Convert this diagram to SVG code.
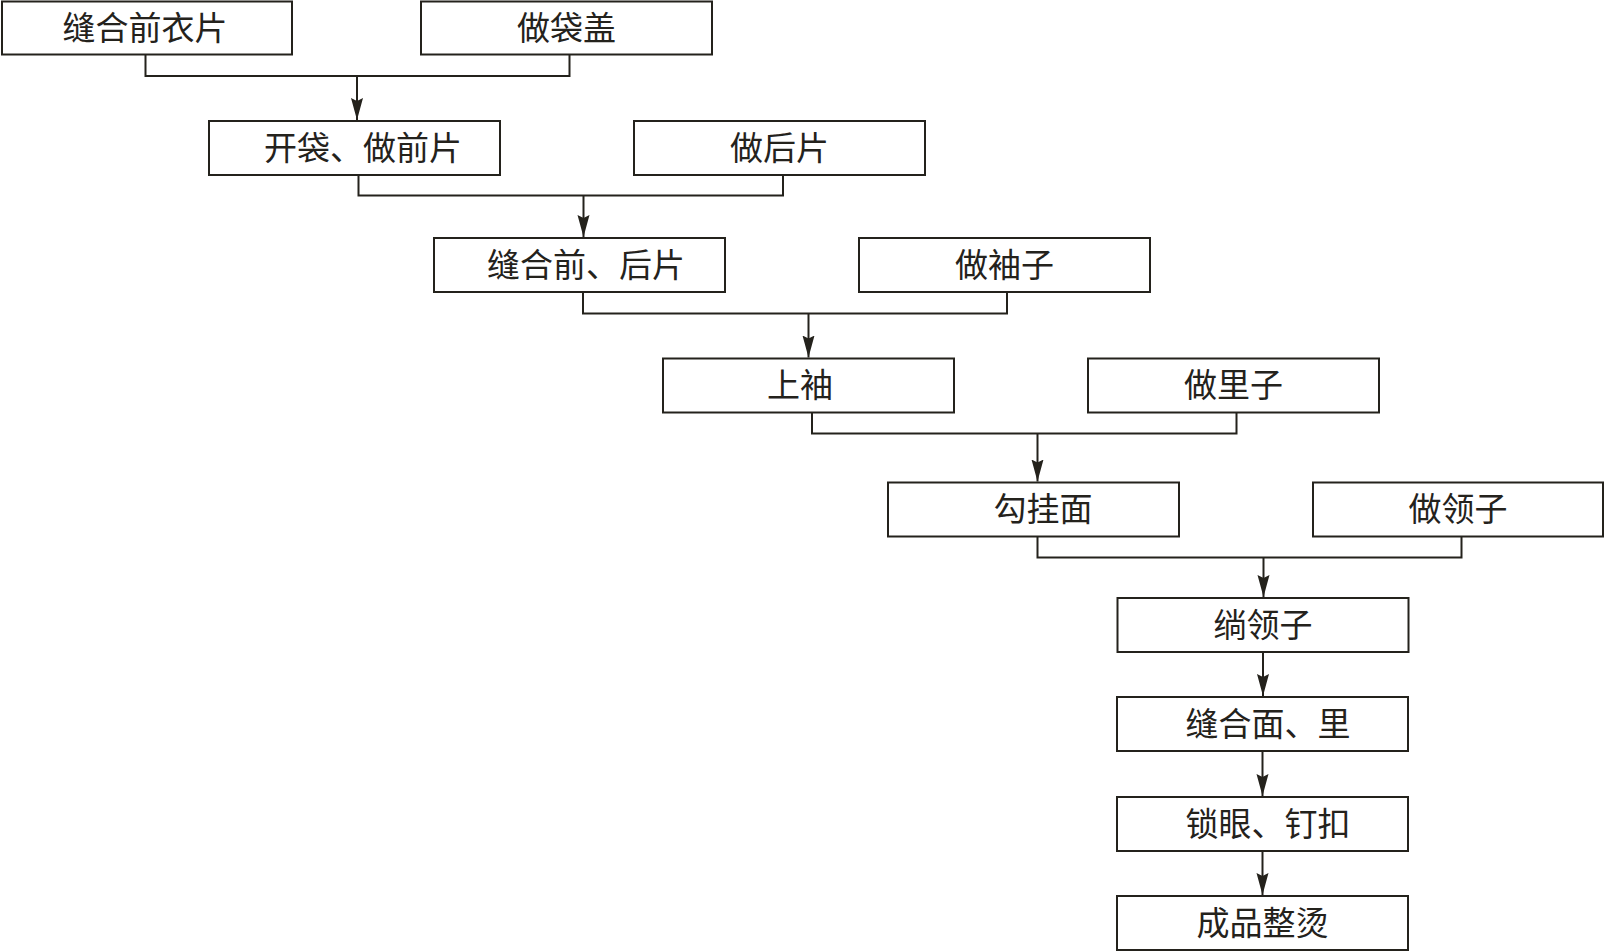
<svg xmlns="http://www.w3.org/2000/svg" width="1605" height="952" viewBox="0 0 1605 952">
<style>
.box{fill:#fff;stroke:#24221c;stroke-width:2}
.lbl{font-family:"Noto Sans CJK SC","Noto Sans CJK JP",sans-serif;font-size:33px;fill:#24221c;text-anchor:middle}
.ln{fill:none;stroke:#24221c;stroke-width:2}
</style>
<defs>
<marker id="ah" markerUnits="userSpaceOnUse" markerWidth="24" markerHeight="14" refX="22" refY="7" orient="auto">
<path d="M0,1 L22,7 L0,13 L3,7 z" fill="#24221c"/>
</marker>
</defs>
<rect width="1605" height="952" fill="#fff"/>
<g id="connectors">
<path class="ln" d="M145.5 55 V76 H569.5 V55"/>
<path class="ln" d="M357 76 V120" marker-end="url(#ah)"/>
<path class="ln" d="M358.5 175 V195.5 H783 V175"/>
<path class="ln" d="M583.5 195.5 V237" marker-end="url(#ah)"/>
<path class="ln" d="M583 292 V313.5 H1007 V292"/>
<path class="ln" d="M808.5 313.5 V357.5" marker-end="url(#ah)"/>
<path class="ln" d="M812 412.5 V433.5 H1236.5 V412.5"/>
<path class="ln" d="M1037.5 433.5 V481.5" marker-end="url(#ah)"/>
<path class="ln" d="M1037.5 536.5 V557.5 H1461.5 V536.5"/>
<path class="ln" d="M1263.5 557.5 V597" marker-end="url(#ah)"/>
<path class="ln" d="M1263 652 V696" marker-end="url(#ah)"/>
<path class="ln" d="M1262.5 751 V796" marker-end="url(#ah)"/>
<path class="ln" d="M1262.5 851 V895" marker-end="url(#ah)"/>
</g>
<g id="n1"><rect class="box" x="2" y="1.5" width="290" height="53"/><text class="lbl" x="145" y="39.5">缝合前衣片</text></g>
<g id="n2"><rect class="box" x="421" y="1.5" width="291" height="53"/><text class="lbl" x="566.5" y="39.5">做袋盖</text></g>
<g id="n3"><rect class="box" x="209" y="121" width="291" height="54"/><text class="lbl" x="363" y="159.5">开袋、做前片</text></g>
<g id="n4"><rect class="box" x="634" y="121" width="291" height="54"/><text class="lbl" x="779.5" y="159.5">做后片</text></g>
<g id="n5"><rect class="box" x="434" y="238" width="291" height="54"/><text class="lbl" x="586" y="276.5">缝合前、后片</text></g>
<g id="n6"><rect class="box" x="859" y="238" width="291" height="54"/><text class="lbl" x="1004.5" y="276.5">做袖子</text></g>
<g id="n7"><rect class="box" x="663" y="358.5" width="291" height="54"/><text class="lbl" x="800" y="397">上袖</text></g>
<g id="n8"><rect class="box" x="1088" y="358.5" width="291" height="54"/><text class="lbl" x="1233.5" y="397">做里子</text></g>
<g id="n9"><rect class="box" x="888" y="482.5" width="291" height="54"/><text class="lbl" x="1043" y="521">勾挂面</text></g>
<g id="n10"><rect class="box" x="1313" y="482.5" width="290" height="54"/><text class="lbl" x="1458" y="521">做领子</text></g>
<g id="n11"><rect class="box" x="1117.5" y="598" width="291" height="54"/><text class="lbl" x="1263" y="636.5">绱领子</text></g>
<g id="n12"><rect class="box" x="1117" y="697" width="291" height="54"/><text class="lbl" x="1268" y="735.5">缝合面、里</text></g>
<g id="n13"><rect class="box" x="1117" y="797" width="291" height="54"/><text class="lbl" x="1268" y="835.5">锁眼、钉扣</text></g>
<g id="n14"><rect class="box" x="1117" y="896" width="291" height="54"/><text class="lbl" x="1262.5" y="934.5">成品整烫</text></g>
</svg>
